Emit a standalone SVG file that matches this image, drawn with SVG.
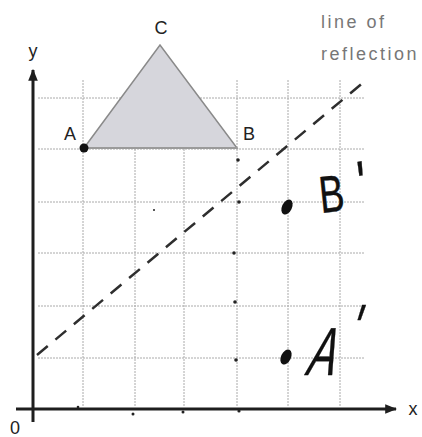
<svg xmlns="http://www.w3.org/2000/svg" width="422" height="437" viewBox="0 0 422 437">
<defs>
<style>
.grid{stroke:#aaaaaa;stroke-width:1;stroke-dasharray:2 1;fill:none}
.axis{stroke:#1e1e1e;stroke-width:3;fill:none}
.lbl{font-family:"Liberation Sans",Arial,sans-serif;fill:#222}
.note{font-family:"Liberation Sans",Arial,sans-serif;fill:#777;font-size:18px;letter-spacing:2.5px}
.hand{font-family:"Liberation Sans",Arial,sans-serif;fill:#111;stroke:#111;stroke-width:0.4;stroke-linejoin:round}
.speck{fill:#222}
</style>
<marker id="arr" viewBox="0 0 10 10" refX="9" refY="5" markerWidth="4" markerHeight="4" orient="auto-start-reverse">
<path d="M0,1 L10,5 L0,9 Z" fill="#1e1e1e"/>
</marker>
</defs>
<rect width="422" height="437" fill="#fff"/>
<g id="grid">
<line class="grid" x1="83" y1="80" x2="83" y2="407"/>
<line class="grid" x1="135" y1="80" x2="135" y2="407"/>
<line class="grid" x1="184" y1="80" x2="184" y2="407"/>
<line class="grid" x1="237" y1="80" x2="237" y2="407"/>
<line class="grid" x1="288" y1="80" x2="288" y2="407"/>
<line class="grid" x1="340" y1="80" x2="340" y2="407"/>
<line class="grid" x1="38" y1="98" x2="364" y2="98"/>
<line class="grid" x1="38" y1="149" x2="364" y2="149"/>
<line class="grid" x1="38" y1="202" x2="364" y2="202"/>
<line class="grid" x1="38" y1="253" x2="364" y2="253"/>
<line class="grid" x1="38" y1="306" x2="364" y2="306"/>
<line class="grid" x1="38" y1="358" x2="364" y2="358"/>
</g>
<g id="triangle">
<polygon points="84,148 160,45 237,148" fill="#d6d6dc" stroke="#8a8a8a" stroke-width="1.5"/>
<line x1="84" y1="148" x2="237" y2="148" stroke="#9a9a9a" stroke-width="2"/>
</g>
<g id="axes">
<line class="axis" x1="33" y1="422" x2="33" y2="70" marker-end="url(#arr)"/>
<line class="axis" x1="16" y1="409" x2="396" y2="409" marker-end="url(#arr)"/>
</g>
<g id="connectors">
<line x1="37" y1="355" x2="365" y2="81" stroke="#2e2e2e" stroke-width="2.5" stroke-dasharray="14 10"/>
</g>
<g id="specks">
<circle class="speck" cx="238" cy="160" r="1.8"/>
<circle class="speck" cx="239" cy="202" r="1.8"/>
<circle class="speck" cx="234" cy="253" r="1.8"/>
<circle class="speck" cx="235" cy="302" r="1.8"/>
<circle class="speck" cx="236" cy="360" r="1.8"/>
<circle class="speck" cx="239" cy="411" r="1.6"/>
<circle class="speck" cx="183" cy="412" r="1.5"/>
<circle class="speck" cx="133" cy="414" r="1.5"/>
<circle class="speck" cx="78" cy="407" r="1.3"/>
<circle class="speck" cx="154" cy="210" r="1"/>
</g>
<g id="point-A">
<circle cx="84" cy="148" r="4.5" fill="#111"/>
<text class="lbl" x="70" y="140" font-size="18" text-anchor="middle">A</text>
</g>
<g id="point-B">
<text class="lbl" x="249" y="140" font-size="18" text-anchor="middle">B</text>
</g>
<g id="point-C">
<text class="lbl" x="161" y="34" font-size="18" text-anchor="middle">C</text>
</g>
<g id="axis-labels">
<text class="lbl" x="33" y="57" font-size="18" text-anchor="middle">y</text>
<text class="lbl" x="413" y="415" font-size="18" text-anchor="middle">x</text>
<text class="lbl" x="15" y="434" font-size="18" text-anchor="middle" fill="#444">0</text>
</g>
<g id="line-label">
<text class="note" x="321" y="28">line of</text>
<text class="note" x="321" y="60">reflection</text>
</g>
<g id="point-B-prime">
<ellipse cx="287" cy="207" rx="5" ry="8" transform="rotate(25 287 207)" fill="#111"/>
<text class="hand" font-size="52" transform="translate(321,213) rotate(-6) scale(0.72,1)">B<tspan font-size="64" dx="20" dy="-3">'</tspan></text>
</g>
<g id="point-A-prime">
<ellipse cx="286" cy="357" rx="5" ry="8" transform="rotate(25 286 357)" fill="#111"/>
<text class="hand" font-size="68" transform="translate(304,375) skewX(-18) scale(0.62,1)">A<tspan font-size="70" dx="8" dy="-22">'</tspan></text>
</g>
</svg>
